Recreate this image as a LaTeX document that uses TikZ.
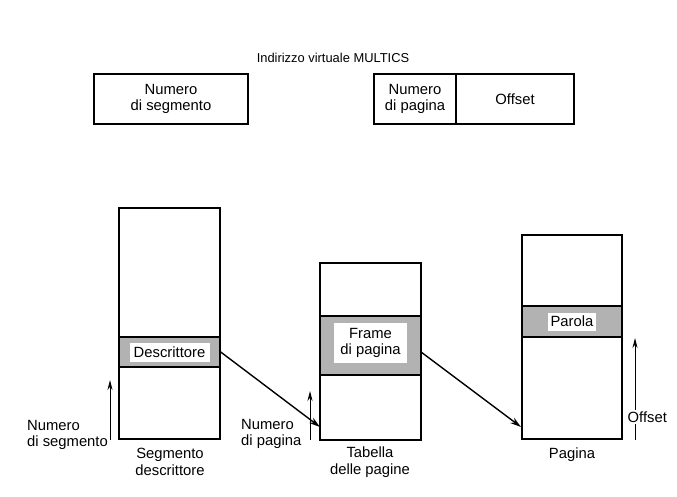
\documentclass[tikz,border=0pt]{standalone}
\usepackage{fontspec}
\setmainfont{Liberation Sans}
\usetikzlibrary{arrows.meta}
\begin{document}
\begin{tikzpicture}[x=1pt,y=-1pt,
  every node/.style={font=\fontsize{14.8}{16.5}\selectfont, inner sep=0pt, align=center},
  rect/.style={draw, line width=1.4pt, fill=white},
  band/.style={draw, line width=1.4pt, fill=black!30},
  thickband/.style={draw, line width=2.4pt, fill=black!30},
  tag/.style={fill=white, inner sep=0pt},
  conn/.style={-{Stealth[length=11pt,width=6.5pt]}, line width=1.4pt},
  ptr/.style={-{Stealth[length=10pt,width=5pt]}, line width=0.9pt}]
\useasboundingbox (0,0) rectangle (677,497);

% virtual address
\node[font=\fontsize{12.9}{15}\selectfont] (title) at (333,58) {Indirizzo virtuale MULTICS};
\node[rect, minimum width=154pt, minimum height=50pt] (segno) at (171,99) {Numero\\di segmento};
\node[rect, minimum width=82pt, minimum height=50pt] (pagno) at (415,99) {Numero\\di pagina};
\node[rect, minimum width=118pt, minimum height=50pt] (off) at (515,99) {Offset};

% descriptor segment
\node[rect, minimum width=101pt, minimum height=231pt] (seg) at (169.5,323.5) {};
\node[band, minimum width=101pt, minimum height=30pt] (desc) at (169.5,352) {};
\node[tag, minimum width=80pt, minimum height=19pt] (desctxt) at (desc.center) {Descrittore};
\node (segtxt) at (170,462) {Segmento\\descrittore};

% page table
\node[rect, minimum width=101pt, minimum height=177pt] (tab) at (370.5,351.5) {};
\node[thickband, minimum width=101pt, minimum height=59pt] (frame) at (370.5,345.5) {};
\node[tag, minimum width=73pt, minimum height=40pt] (frametxt) at (370.5,343) {Frame\\di pagina};
\node (tabtxt) at (370,462) {Tabella\\delle pagine};

% page
\node[rect, minimum width=100pt, minimum height=204pt] (page) at (572,337) {};
\node[band, minimum width=100pt, minimum height=31pt] (word) at (572,321.5) {};
\node[tag, minimum width=48pt, minimum height=18pt] (wordtxt) at (word.center) {Parola};
\node (pagetxt) at (572,455) {Pagina};

% connectors
\coordinate (tabin) at (320,427);
\coordinate (frout) at (421,352);
\coordinate (pagein) at (521,427);
\draw[conn] (desc.east) -- (tabin);
\draw[conn] (frout) -- (pagein);

% index arrows
\coordinate (a1s) at (110,440);
\coordinate (a1e) at (110,380);
\coordinate (a2s) at (310,440);
\coordinate (a2e) at (310,391);
\coordinate (a3s) at (635,440);
\coordinate (a3e) at (635,338);
\draw[ptr] (a1s) -- (a1e);
\draw[ptr] (a2s) -- (a2e);
\draw[ptr] (a3s) -- (a3e);
\node[anchor=west, align=left] (segnum) at (27,435) {Numero\\di segmento};
\node[anchor=west, align=left] (pagnum) at (241,434) {Numero\\di pagina};
\node[anchor=west, fill=white, inner ysep=2pt, inner xsep=0.5pt] (offtxt) at (627,417) {Offset};
\end{tikzpicture}
\end{document}
